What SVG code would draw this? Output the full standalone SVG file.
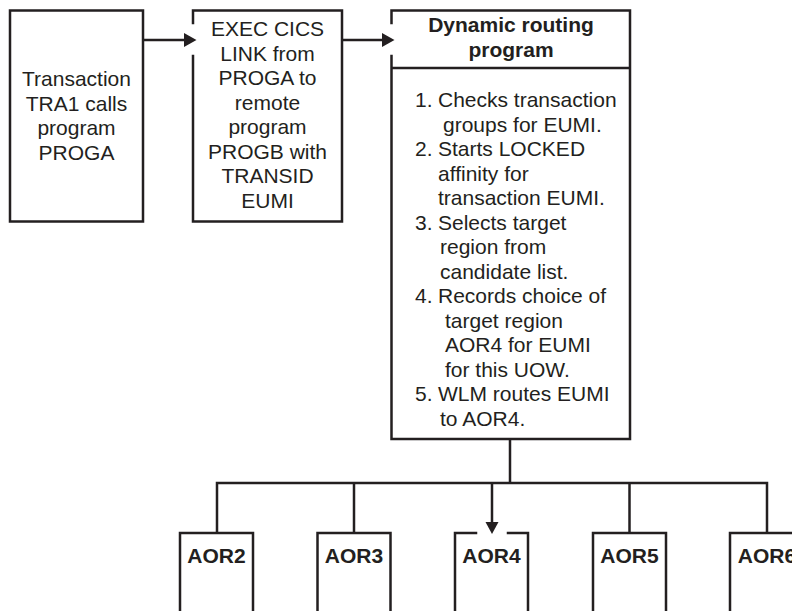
<svg xmlns="http://www.w3.org/2000/svg" width="792" height="611" viewBox="0 0 792 611">
<style>
.box{fill:none;stroke:#231f20;stroke-width:2.5;stroke-linecap:square}
.ln{fill:none;stroke:#231f20;stroke-width:2.5}
.head{fill:#231f20;stroke:none}
text{font-family:"Liberation Sans",Arial,Helvetica,sans-serif;font-size:21px;fill:#231f20}
.c{text-anchor:middle}
.b{font-weight:bold}
</style>
<rect width="792" height="611" fill="#ffffff"/>
<g id="node-tra1">
<rect class="box" x="10" y="10.5" width="133" height="211"/>
<text class="c" x="76.5" y="86">Transaction</text>
<text class="c" x="76.5" y="110.5">TRA1 calls</text>
<text class="c" x="76.5" y="135">program</text>
<text class="c" x="76.5" y="159.5">PROGA</text>
</g>
<g id="node-exec">
<path class="box" d="M193,23 V10.5 H342 V221.5 H193 V56"/>
<text class="c" x="267.5" y="36">EXEC CICS</text>
<text class="c" x="267.5" y="60.5">LINK from</text>
<text class="c" x="267.5" y="85">PROGA to</text>
<text class="c" x="267.5" y="109.5">remote</text>
<text class="c" x="267.5" y="134">program</text>
<text class="c" x="267.5" y="158.5">PROGB with</text>
<text class="c" x="267.5" y="183">TRANSID</text>
<text class="c" x="267.5" y="207.5">EUMI</text>
</g>
<g id="node-dynamic">
<path class="box" d="M391.5,23 V10.5 H630 V439 H391.5 V56"/>
<line class="ln" x1="391.5" y1="68" x2="630" y2="68"/>
<text class="c b" x="511" y="32">Dynamic routing</text>
<text class="c b" x="511" y="57">program</text>
<text x="415" y="107">1.</text><text x="438" y="107">Checks transaction</text>
<text x="443" y="131.5">groups for EUMI.</text>
<text x="415" y="156">2.</text><text x="438" y="156">Starts LOCKED</text>
<text x="438" y="180.5">affinity for</text>
<text x="438" y="205">transaction EUMI.</text>
<text x="415" y="229.5">3.</text><text x="438" y="229.5">Selects target</text>
<text x="440" y="254">region from</text>
<text x="440" y="278.5">candidate list.</text>
<text x="415" y="303">4.</text><text x="438" y="303">Records choice of</text>
<text x="445" y="327.5">target region</text>
<text x="445" y="352">AOR4 for EUMI</text>
<text x="445" y="376.5">for this UOW.</text>
<text x="415" y="401">5.</text><text x="438" y="401">WLM routes EUMI</text>
<text x="440" y="425.5">to AOR4.</text>
</g>
<g id="node-aor2">
<rect class="box" x="180" y="533" width="73" height="110"/>
<text class="c b" x="216.5" y="563">AOR2</text>
</g>
<g id="node-aor3">
<rect class="box" x="317.5" y="533" width="73" height="110"/>
<text class="c b" x="354" y="563">AOR3</text>
</g>
<g id="node-aor4">
<path class="box" d="M476,533 H455 V643 H528 V533 H508"/>
<text class="c b" x="491.5" y="563">AOR4</text>
</g>
<g id="node-aor5">
<rect class="box" x="593" y="533" width="73" height="110"/>
<text class="c b" x="629.5" y="563">AOR5</text>
</g>
<g id="node-aor6">
<rect class="box" x="730" y="533" width="73" height="110"/>
<text class="c b" x="767" y="563">AOR6</text>
</g>
<g id="connectors">
<line class="ln" x1="143" y1="40" x2="185" y2="40"/>
<polygon class="head" points="184,33 196.5,40 184,47"/>
<line class="ln" x1="342" y1="40" x2="383" y2="40"/>
<polygon class="head" points="382,33 394.5,40 382,47"/>
<line class="ln" x1="510" y1="439" x2="510" y2="483"/>
<polyline class="ln" points="217,533 217,483 767,483 767,533"/>
<line class="ln" x1="354" y1="483" x2="354" y2="533"/>
<line class="ln" x1="629.5" y1="483" x2="629.5" y2="533"/>
<line class="ln" x1="492" y1="483" x2="492" y2="523"/>
<polygon class="head" points="485.5,522 498.5,522 492,534"/>
</g>
</svg>
